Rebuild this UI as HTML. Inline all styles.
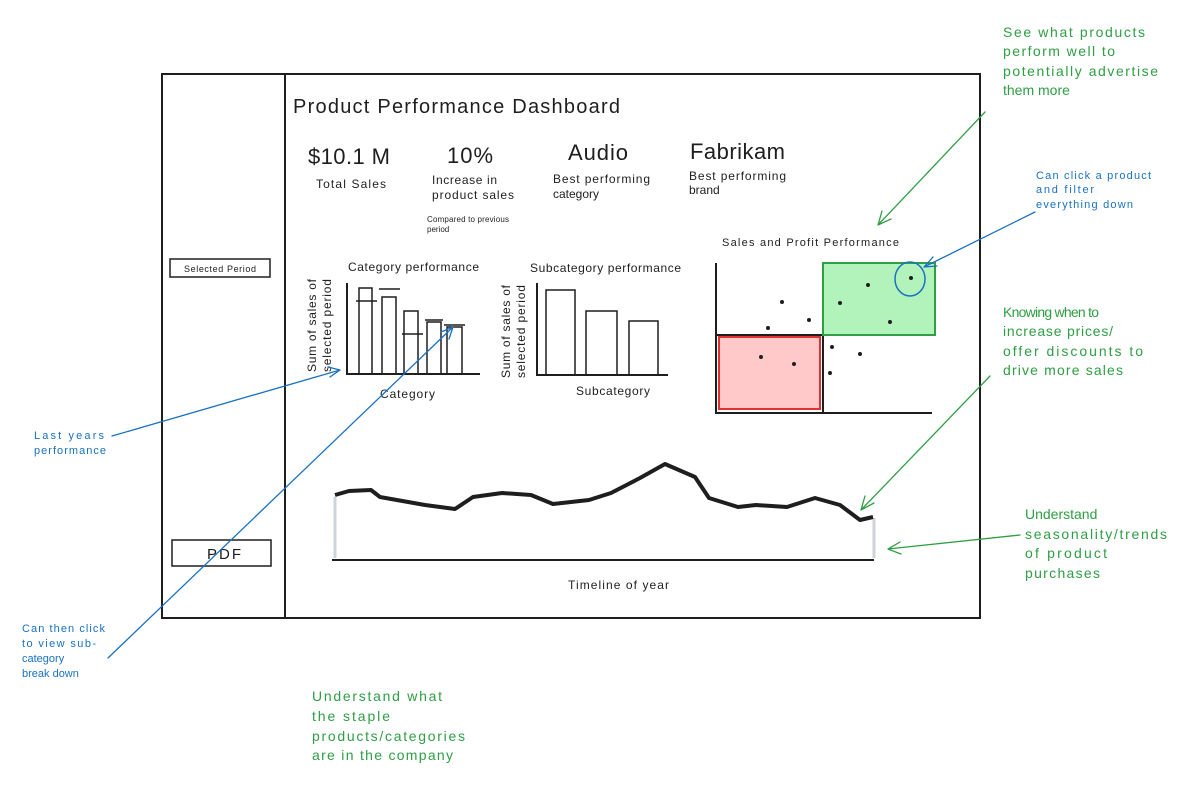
<!DOCTYPE html>
<html><head><meta charset="utf-8"><style>
html,body{margin:0;padding:0;background:#fff;}
svg{display:block;}
text{font-family:"Liberation Sans",sans-serif;}
</style></head><body>
<svg width="1191" height="792" viewBox="0 0 1191 792" xmlns="http://www.w3.org/2000/svg">
<rect width="1191" height="792" fill="#fff"/>
<g fill="none" stroke="#1e1e1e" stroke-width="2">
<rect x="162" y="74" width="818" height="544"/>
<line x1="285" y1="74" x2="285" y2="618"/>
<rect x="170" y="259" width="100" height="18" stroke-width="1.5"/>
<rect x="172" y="540" width="99" height="26" stroke-width="1.5"/>
<!-- category chart -->
<polyline points="347,283 347,374 480,374"/>
<g stroke-width="1.5">
<rect x="359" y="288" width="13" height="86"/>
<rect x="382" y="297" width="14" height="77"/>
<rect x="404" y="311" width="14" height="63"/>
<rect x="427" y="322" width="14" height="52"/>
<rect x="447" y="327" width="15" height="47"/>
<line x1="356" y1="301" x2="377" y2="301"/>
<line x1="379" y1="289" x2="400" y2="289"/>
<line x1="402" y1="334" x2="423" y2="334"/>
<line x1="425" y1="320" x2="443" y2="320"/>
<line x1="444" y1="325" x2="465" y2="325"/>
</g>
<!-- subcategory chart -->
<polyline points="537,283 537,375 668,375"/>
<g stroke-width="1.5">
<rect x="546" y="290" width="29" height="85"/>
<rect x="586" y="311" width="31" height="64"/>
<rect x="629" y="321" width="29" height="54"/>
</g>
<!-- scatter -->
<polyline points="716,263 716,413 932,413"/>
<line x1="716" y1="335" x2="823" y2="335"/>
<line x1="823" y1="335" x2="823" y2="413"/>
</g>
<rect x="823" y="263" width="112" height="72" fill="#b2f2bb" stroke="#2f9e44" stroke-width="2"/>
<rect x="719" y="337" width="101" height="72" fill="#ffc9c9" stroke="#e03131" stroke-width="2"/>
<g fill="#1e1e1e">
<circle cx="782" cy="302" r="2"/><circle cx="768" cy="328" r="2"/><circle cx="809" cy="320" r="2"/>
<circle cx="840" cy="303" r="2"/><circle cx="868" cy="285" r="2"/><circle cx="911" cy="278" r="2"/>
<circle cx="890" cy="322" r="2"/><circle cx="832" cy="347" r="2"/><circle cx="860" cy="354" r="2"/>
<circle cx="830" cy="373" r="2"/><circle cx="761" cy="357" r="2"/><circle cx="794" cy="364" r="2"/>
</g>
<ellipse cx="910" cy="279" rx="15" ry="17" fill="none" stroke="#1971c2" stroke-width="1.5"/>
<!-- timeline -->
<line x1="335" y1="497" x2="335" y2="558" stroke="#ced4da" stroke-width="3"/>
<line x1="874" y1="518" x2="874" y2="558" stroke="#ced4da" stroke-width="3"/>
<line x1="332" y1="560" x2="874" y2="560" stroke="#1e1e1e" stroke-width="2"/>
<polyline fill="none" stroke="#1e1e1e" stroke-width="4" stroke-linejoin="round" points="335,495 349,491 371,490 380,497 425,505 455,509 473,497 502,493 531,495 553,504 589,500 611,493 640,478 665,464 695,477 709,498 738,507 756,505 787,507 815,498 840,505 860,520 873,517"/>
<!-- text -->
<g fill="#1e1e1e">
<text x="293" y="113" font-size="20" textLength="327">Product Performance Dashboard</text>
<text x="308" y="164" font-size="22" textLength="82">$10.1 M</text>
<text x="316" y="188" font-size="12" textLength="70">Total Sales</text>
<text x="447" y="163" font-size="22" textLength="46">10%</text>
<text x="432" y="184" font-size="12" textLength="65">Increase in</text>
<text x="432" y="199" font-size="12" textLength="82">product sales</text>
<text x="427" y="222" font-size="8" textLength="82">Compared to previous</text>
<text x="427" y="232" font-size="8">period</text>
<text x="568" y="160" font-size="22" textLength="60">Audio</text>
<text x="553" y="183" font-size="12" textLength="97">Best performing</text>
<text x="553" y="198" font-size="12">category</text>
<text x="690" y="159" font-size="22" textLength="95">Fabrikam</text>
<text x="689" y="180" font-size="12" textLength="97">Best performing</text>
<text x="689" y="194" font-size="12">brand</text>
<text x="184" y="272" font-size="9" textLength="72">Selected Period</text>
<text x="207" y="559" font-size="15" textLength="34">PDF</text>
<text x="348" y="271" font-size="12" textLength="131">Category performance</text>
<text x="380" y="398" font-size="12" textLength="55">Category</text>
<text transform="translate(316,372) rotate(-90)" font-size="12" textLength="93">Sum of sales of</text>
<text transform="translate(331,372) rotate(-90)" font-size="12" textLength="93">selected period</text>
<text x="530" y="272" font-size="12" textLength="151">Subcategory performance</text>
<text x="576" y="395" font-size="12" textLength="74">Subcategory</text>
<text transform="translate(510,378) rotate(-90)" font-size="12" textLength="93">Sum of sales of</text>
<text transform="translate(525,378) rotate(-90)" font-size="12" textLength="93">selected period</text>
<text x="722" y="246" font-size="11" textLength="177">Sales and Profit Performance</text>
<text x="568" y="589" font-size="12" textLength="101">Timeline of year</text>
</g>
<!-- annotations green -->
<g fill="#2f9e44" font-size="14">
<text x="1003" y="37" textLength="142">See what products</text>
<text x="1003" y="56" textLength="112">perform well to</text>
<text x="1003" y="76" textLength="155">potentially advertise</text>
<text x="1003" y="95">them more</text>
<text x="1003" y="317" textLength="96">Knowing when to</text>
<text x="1003" y="336" textLength="110">increase prices/</text>
<text x="1003" y="356" textLength="140">offer discounts to</text>
<text x="1003" y="375" textLength="120">drive more sales</text>
<text x="1025" y="519">Understand</text>
<text x="1025" y="539" textLength="142">seasonality/trends</text>
<text x="1025" y="558" textLength="82">of product</text>
<text x="1025" y="578" textLength="75">purchases</text>
<text x="312" y="701" textLength="130">Understand what</text>
<text x="312" y="721" textLength="78">the staple</text>
<text x="312" y="741" textLength="153">products/categories</text>
<text x="312" y="760" textLength="141">are in the company</text>
</g>
<g fill="#1971c2" font-size="11">
<text x="1036" y="179" textLength="115">Can click a product</text>
<text x="1036" y="193" textLength="58">and filter</text>
<text x="1036" y="208" textLength="97">everything down</text>
<text x="34" y="439" textLength="70">Last years</text>
<text x="34" y="454" textLength="72">performance</text>
<text x="22" y="632" textLength="83">Can then click</text>
<text x="22" y="647" textLength="74">to view sub-</text>
<text x="22" y="662">category</text>
<text x="22" y="677">break down</text>
</g>
<!-- arrows -->
<g fill="none" stroke-width="1.3" stroke-linecap="round">
<g stroke="#2f9e44">
<path d="M985,112 L878,225 M878,225 L882,211 M878,225 L891,219"/>
<path d="M990,376 L861,510 M861,510 L865,496 M861,510 L874,503"/>
<path d="M1020,535 L888,549 M888,549 L900,542 M888,549 L901,554"/>
</g>
<g stroke="#1971c2">
<path d="M1035,212 L924,267 M924,267 L933,257 M924,267 L937,266"/>
<path d="M112,436 L340,370 M340,370 L328,367 M340,370 L330,377"/>
<path d="M108,658 L453,327 M453,327 L441,332 M453,327 L449,339"/>
</g>
</g>
</svg>
</body></html>
